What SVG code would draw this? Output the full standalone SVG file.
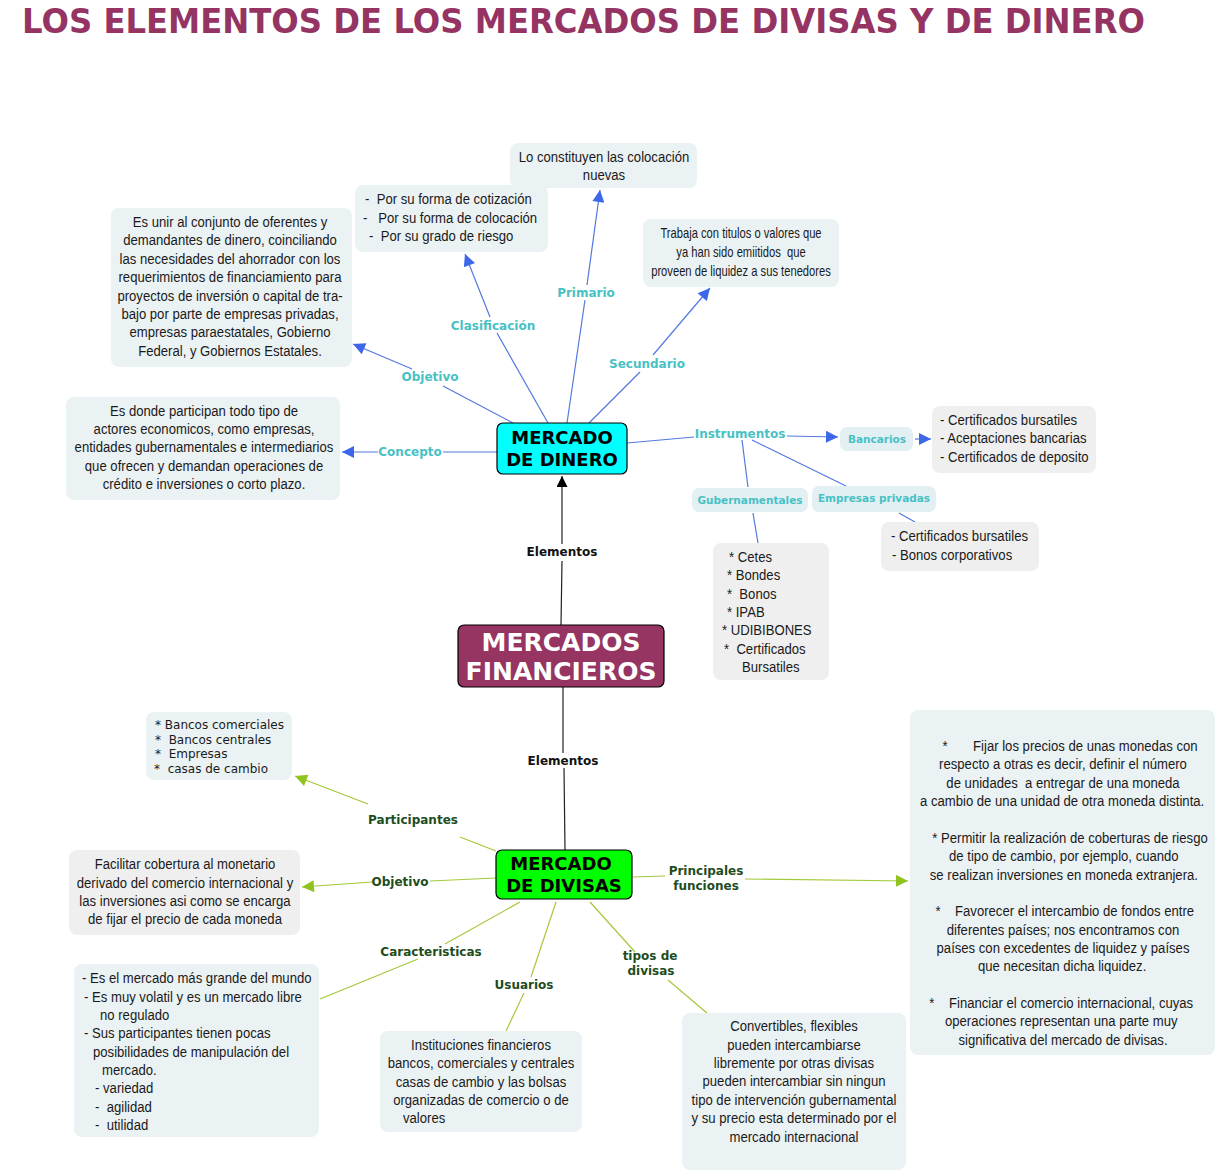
<svg xmlns="http://www.w3.org/2000/svg" width="1218" height="1174" viewBox="0 0 1218 1174">
<defs>
<style>
.bg{fill:#ffffff}
.bx{fill:#ebf2f4}
.gy{fill:#efefef}
.lb{fill:#e2f0f3}
.t{font-family:"Liberation Sans",Arial,sans-serif;font-size:15px;fill:#1a1a1a}
.tm{text-anchor:middle}
.sec{font-family:"Liberation Sans",Arial,sans-serif;font-size:14px;fill:#1a1a1a;text-anchor:middle}
.ver{font-family:"DejaVu Sans",Verdana,sans-serif;font-size:12px;fill:#1a1a1a}
.bl{font-family:"DejaVu Sans",Verdana,sans-serif;font-size:12px;font-weight:bold;fill:#48c1c5;text-anchor:middle}
.bs{font-family:"DejaVu Sans",Verdana,sans-serif;font-size:10.5px;font-weight:bold;fill:#48c1c5;text-anchor:middle}
.gl{font-family:"DejaVu Sans",Verdana,sans-serif;font-size:12px;font-weight:bold;fill:#1e4d1e;text-anchor:middle}
.kl{font-family:"DejaVu Sans",Verdana,sans-serif;font-size:12px;font-weight:bold;fill:#111;text-anchor:middle}
.nt{font-family:"DejaVu Sans",Verdana,sans-serif;font-weight:bold;text-anchor:middle}
.cb{stroke:#5378e0;stroke-width:1.2;fill:none}
.cg{stroke:#a3c83a;stroke-width:1.2;fill:none}
.ck{stroke:#222;stroke-width:1.2;fill:none}
</style>
<marker id="ab" viewBox="0 0 10 10" refX="10" refY="5" markerWidth="13" markerHeight="12" markerUnits="userSpaceOnUse" orient="auto"><path d="M0,0 L10,5 L0,10 z" fill="#3b67e8"/></marker>
<marker id="ag" viewBox="0 0 10 10" refX="10" refY="5" markerWidth="13" markerHeight="12" markerUnits="userSpaceOnUse" orient="auto"><path d="M0,0 L10,5 L0,10 z" fill="#90c320"/></marker>
<marker id="ak" viewBox="0 0 10 10" refX="10" refY="5" markerWidth="13" markerHeight="11" markerUnits="userSpaceOnUse" orient="auto"><path d="M0,0 L10,5 L0,10 z" fill="#000"/></marker>
</defs>
<rect class="bg" x="0" y="0" width="1218" height="1174"/>
<text x="22" y="33" font-family="DejaVu Sans, Verdana, sans-serif" font-weight="bold" font-size="33" fill="#953463" textLength="1123" lengthAdjust="spacingAndGlyphs">LOS ELEMENTOS DE LOS MERCADOS DE DIVISAS Y DE DINERO</text>

<g id="connectors">
<path class="cb" d="M513,423 L443,386"/>
<path class="cb" d="M412,369 L353,344" marker-end="url(#ab)"/>
<path class="cb" d="M548,423 L497,333"/>
<path class="cb" d="M490,317 L465,254" marker-end="url(#ab)"/>
<path class="cb" d="M567,423 L585,300"/>
<path class="cb" d="M587,285 L600,190" marker-end="url(#ab)"/>
<path class="cb" d="M589,423 L640,372"/>
<path class="cb" d="M653,355 L710,288" marker-end="url(#ab)"/>
<path class="cb" d="M497,452 L443,452"/>
<path class="cb" d="M378,452 L342,452" marker-end="url(#ab)"/>
<path class="cb" d="M627,443 L694,437"/>
<path class="cb" d="M787,436 L838,437" marker-end="url(#ab)"/>
<path class="cb" d="M742,440 L748,487"/>
<path class="cb" d="M752,440 L846,486"/>
<path class="cb" d="M915,439 L931,439" marker-end="url(#ab)"/>
<path class="cb" d="M753,513 L758,543"/>
<path class="cb" d="M899,513 L915,522"/>
<path class="ck" d="M561,625 L562,561"/>
<path class="ck" d="M562,544 L562,476" marker-end="url(#ak)"/>
<path class="ck" d="M563,687 L563,753"/>
<path class="ck" d="M564,768 L565,850"/>
<path class="cg" d="M496,851 L460,837"/>
<path class="cg" d="M368,804 L295,776" marker-end="url(#ag)"/>
<path class="cg" d="M496,878 L430,881"/>
<path class="cg" d="M372,882 L302,887" marker-end="url(#ag)"/>
<path class="cg" d="M633,877 L665,876"/>
<path class="cg" d="M745,879 L908,881" marker-end="url(#ag)"/>
<path class="cg" d="M520,902 L445,944"/>
<path class="cg" d="M418,959 L320,999"/>
<path class="cg" d="M556,902 L531,977"/>
<path class="cg" d="M524,993 L506,1031"/>
<path class="cg" d="M590,902 L635,952"/>
<path class="cg" d="M668,980 L707,1013"/>
<text class="bl" x="430" y="381">Objetivo</text>
<text class="bl" x="493" y="330">Clasificación</text>
<text class="bl" x="586" y="297">Primario</text>
<text class="bl" x="647" y="368">Secundario</text>
<text class="bl" x="410" y="456">Concepto</text>
<text class="bl" x="740" y="438">Instrumentos</text>
<text class="kl" x="562" y="556">Elementos</text>
<text class="kl" x="563" y="765">Elementos</text>
<text class="gl" x="413" y="824">Participantes</text>
<text class="gl" x="400" y="886">Objetivo</text>
<text class="gl" x="706" y="875">Principales</text>
<text class="gl" x="706" y="890">funciones</text>
<text class="gl" x="431" y="956">Caracteristicas</text>
<text class="gl" x="524" y="989">Usuarios</text>
<text class="gl" x="650" y="960">tipos de</text>
<text class="gl" x="651" y="975">divisas</text>
</g>

<g id="n-objetivo-dinero">
<rect class="bx" x="111" y="208" width="241" height="159" rx="8"/>
<text class="t tm" transform="translate(230 0) scale(0.875 1) translate(-230 0)"><tspan x="230" y="227">Es unir al conjunto de oferentes y</tspan><tspan x="230" y="245">demandantes de dinero, coinciliando</tspan><tspan x="230" y="264">las necesidades del ahorrador con los</tspan><tspan x="230" y="282">requerimientos de financiamiento para</tspan><tspan x="230" y="301">proyectos de inversión o capital de tra-</tspan><tspan x="230" y="319">bajo por parte de empresas privadas,</tspan><tspan x="230" y="337">empresas paraestatales, Gobierno</tspan><tspan x="230" y="356">Federal, y Gobiernos Estatales.</tspan></text>
</g>

<g id="n-clasificacion">
<rect class="bx" x="355" y="185" width="193" height="67" rx="8"/>
<text class="t" xml:space="preserve" transform="translate(363 0) scale(0.875 1) translate(-363 0)"><tspan x="365.3" y="204">-  Por su forma de cotización</tspan><tspan x="363" y="223">-   Por su forma de colocación</tspan><tspan x="369.9" y="241">-  Por su grado de riesgo</tspan></text>
</g>

<g id="n-primario">
<rect class="bx" x="510" y="143" width="187" height="45" rx="8"/>
<text class="t tm" transform="translate(604 0) scale(0.875 1) translate(-604 0)"><tspan x="604" y="162">Lo constituyen las colocación</tspan><tspan x="604" y="180">nuevas</tspan></text>
</g>

<g id="n-secundario">
<rect class="bx" x="643" y="219" width="196" height="68" rx="8"/>
<text class="sec" xml:space="preserve" transform="translate(741 0) scale(0.8 1) translate(-741 0)"><tspan x="741" y="238">Trabaja con titulos o valores que</tspan><tspan x="741" y="257">ya han sido emiitidos  que</tspan><tspan x="741" y="276">proveen de liquidez a sus tenedores</tspan></text>
</g>

<g id="n-concepto">
<rect class="bx" x="66" y="397" width="274" height="103" rx="8"/>
<text class="t tm" transform="translate(204 0) scale(0.875 1) translate(-204 0)"><tspan x="204" y="416">Es donde participan todo tipo de</tspan><tspan x="204" y="434">actores economicos, como empresas,</tspan><tspan x="204" y="452">entidades gubernamentales e intermediarios</tspan><tspan x="204" y="471">que ofrecen y demandan operaciones de</tspan><tspan x="204" y="489">crédito e inversiones o corto plazo.</tspan></text>
</g>

<g id="n-mercado-dinero">
<rect x="497" y="423" width="130" height="51" rx="6" fill="#00ffff" stroke="#000" stroke-width="1.2"/>
<text class="nt" font-size="18" fill="#000"><tspan x="562" y="444">MERCADO</tspan><tspan x="562" y="466">DE DINERO</tspan></text>
</g>

<g id="n-bancarios">
<rect class="lb" x="840" y="427" width="73" height="24" rx="7"/>
<text class="bs" x="877" y="443">Bancarios</text>
</g>

<g id="n-bancarios-lista">
<rect class="gy" x="932" y="406" width="164" height="67" rx="8"/>
<text class="t" transform="translate(940 0) scale(0.875 1) translate(-940 0)"><tspan x="940" y="425">- Certificados bursatiles</tspan><tspan x="940" y="443">- Aceptaciones bancarias</tspan><tspan x="940" y="462">- Certificados de deposito</tspan></text>
</g>

<g id="n-gubernamentales">
<rect class="lb" x="692" y="488" width="116" height="24" rx="7"/>
<text class="bs" x="750" y="504">Gubernamentales</text>
</g>

<g id="n-empresas">
<rect class="lb" x="812" y="486" width="124" height="26" rx="7"/>
<text class="bs" x="874" y="502">Empresas privadas</text>
</g>

<g id="n-gub-lista">
<rect class="gy" x="713" y="543" width="116" height="137" rx="8"/>
<text class="t" xml:space="preserve" transform="translate(722 0) scale(0.875 1) translate(-722 0)"><tspan x="730" y="562">* Cetes</tspan><tspan x="727.7" y="580">* Bondes</tspan><tspan x="727.7" y="599">*  Bonos</tspan><tspan x="727.7" y="617">* IPAB</tspan><tspan x="722" y="635">* UDIBIBONES</tspan><tspan x="724.3" y="654">*  Certificados</tspan><tspan x="744.9" y="672">Bursatiles</tspan></text>
</g>

<g id="n-emp-lista">
<rect class="gy" x="881" y="522" width="158" height="49" rx="8"/>
<text class="t" transform="translate(891 0) scale(0.875 1) translate(-891 0)"><tspan x="891" y="541">- Certificados bursatiles</tspan><tspan x="892.1" y="560">- Bonos corporativos</tspan></text>
</g>

<g id="n-mercados-financieros">
<rect x="458" y="625" width="206" height="62" rx="6" fill="#963462" stroke="#000" stroke-width="1.2"/>
<text class="nt" font-size="25" fill="#ffffff"><tspan x="561" y="651">MERCADOS</tspan><tspan x="561" y="680">FINANCIEROS</tspan></text>
</g>

<g id="n-participantes">
<rect class="bx" x="146" y="712" width="146" height="68" rx="8"/>
<text class="ver" xml:space="preserve"><tspan x="155" y="729">* Bancos comerciales</tspan><tspan x="155" y="744">*  Bancos centrales</tspan><tspan x="155" y="758">*  Empresas</tspan><tspan x="154" y="773">*  casas de cambio</tspan></text>
</g>

<g id="n-objetivo-divisas">
<rect class="gy" x="69" y="850" width="231" height="85" rx="8"/>
<text class="t tm" transform="translate(185 0) scale(0.875 1) translate(-185 0)"><tspan x="185" y="869">Facilitar cobertura al monetario</tspan><tspan x="185" y="888">derivado del comercio internacional y</tspan><tspan x="185" y="906">las inversiones asi como se encarga</tspan><tspan x="185" y="924">de fijar el precio de cada moneda</tspan></text>
</g>

<g id="n-mercado-divisas">
<rect x="496" y="850" width="136" height="49" rx="6" fill="#00ff00" stroke="#000" stroke-width="1.2"/>
<text class="nt" font-size="18" fill="#000"><tspan x="561" y="870">MERCADO</tspan><tspan x="564" y="892">DE DIVISAS</tspan></text>
</g>

<g id="n-funciones">
<rect class="bx" x="910" y="710" width="305" height="345" rx="8"/>
<text class="t tm" xml:space="preserve" transform="translate(1063 0) scale(0.875 1) translate(-1063 0)"><tspan x="1071" y="751">*       Fijar los precios de unas monedas con</tspan><tspan x="1063" y="769">respecto a otras es decir, definir el número</tspan><tspan x="1063" y="788">de unidades  a entregar de una moneda</tspan><tspan x="1062" y="806">a cambio de una unidad de otra moneda distinta.</tspan><tspan x="1071" y="843">* Permitir la realización de coberturas de riesgo</tspan><tspan x="1064" y="861">de tipo de cambio, por ejemplo, cuando</tspan><tspan x="1064" y="880">se realizan inversiones en moneda extranjera.</tspan><tspan x="1065" y="916">*    Favorecer el intercambio de fondos entre</tspan><tspan x="1063" y="935">diferentes países; nos encontramos con</tspan><tspan x="1063" y="953">países con excedentes de liquidez y países</tspan><tspan x="1062" y="971">que necesitan dicha liquidez.</tspan><tspan x="1061" y="1008">*    Financiar el comercio internacional, cuyas</tspan><tspan x="1061" y="1026">operaciones representan una parte muy</tspan><tspan x="1063" y="1045">significativa del mercado de divisas.</tspan></text>
</g>

<g id="n-caracteristicas">
<rect class="bx" x="74" y="964" width="245" height="173" rx="8"/>
<text class="t" xml:space="preserve" transform="translate(82 0) scale(0.875 1) translate(-82 0)"><tspan x="82" y="983">- Es el mercado más grande del mundo</tspan><tspan x="84.3" y="1002">- Es muy volatil y es un mercado libre</tspan><tspan x="102.6" y="1020">no regulado</tspan><tspan x="84.3" y="1038">- Sus participantes tienen pocas</tspan><tspan x="94.6" y="1057">posibilidades de manipulación del</tspan><tspan x="104.9" y="1075">mercado.</tspan><tspan x="96.9" y="1093">- variedad</tspan><tspan x="96.9" y="1112">-  agilidad</tspan><tspan x="96.9" y="1130">-  utilidad</tspan></text>
</g>

<g id="n-usuarios">
<rect class="bx" x="380" y="1031" width="202" height="101" rx="8"/>
<text class="t tm" transform="translate(481 0) scale(0.875 1) translate(-481 0)"><tspan x="481" y="1050">Instituciones financieros</tspan><tspan x="481" y="1068">bancos, comerciales y centrales</tspan><tspan x="481" y="1087">casas de cambio y las bolsas</tspan><tspan x="481" y="1105">organizadas de comercio o de</tspan><tspan x="416" y="1123">valores</tspan></text>
</g>

<g id="n-tipos">
<rect class="bx" x="682" y="1013" width="224" height="157" rx="8"/>
<text class="t tm" transform="translate(794 0) scale(0.875 1) translate(-794 0)"><tspan x="794" y="1031">Convertibles, flexibles</tspan><tspan x="794" y="1050">pueden intercambiarse</tspan><tspan x="794" y="1068">libremente por otras divisas</tspan><tspan x="794" y="1086">pueden intercambiar sin ningun</tspan><tspan x="794" y="1105">tipo de intervención gubernamental</tspan><tspan x="794" y="1123">y su precio esta determinado por el</tspan><tspan x="794" y="1142">mercado internacional</tspan></text>
</g>
</svg>
